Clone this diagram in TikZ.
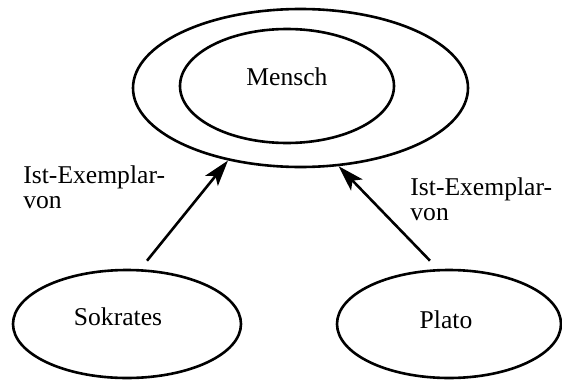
\documentclass[tikz,border=0pt]{standalone}
\usepackage{fontspec}
\setmainfont{Liberation Serif}
\usetikzlibrary{shapes.geometric,arrows.meta}
\begin{document}
\begin{tikzpicture}[x=0.5pt,y=-0.5pt,
  every node/.style={font=\fontsize{12.8}{12.5}\selectfont},
  ell/.style={draw, ellipse, line width=1.3pt, inner sep=0pt},
  txt/.style={inner sep=0pt, anchor=base},
  lbl/.style={inner sep=0pt, anchor=base west, align=left},
  arr/.style={-{Stealth[length=13pt,width=8pt,inset=3pt]}, line width=1.3pt}]
\useasboundingbox (0,0) rectangle (562,380);
\node[ell, minimum width=167.5pt, minimum height=79pt] (outer) at (300.5,88) {};
\node[ell, minimum width=107pt, minimum height=57pt] (inner) at (287,86) {};
\node[ell, minimum width=114pt, minimum height=54pt] (sok) at (127,324) {};
\node[ell, minimum width=112pt, minimum height=54pt] (plato) at (449,324) {};
\node[txt] (tm) at (287,85) {Mensch};
\node[txt] (ts) at (118,325) {Sokrates};
\node[txt] (tp) at (446,328) {Plato};
\node[lbl] (l1) at (23,208) {Ist-Exemplar-\\von};
\node[lbl] (l2) at (410,220) {Ist-Exemplar-\\von};
\draw[arr] ([shift={(20,-8)}]sok.north) -- (outer.225);
\draw[arr] ([shift={(-19,-8)}]plato.north) -- (outer.296);
\end{tikzpicture}
\end{document}
